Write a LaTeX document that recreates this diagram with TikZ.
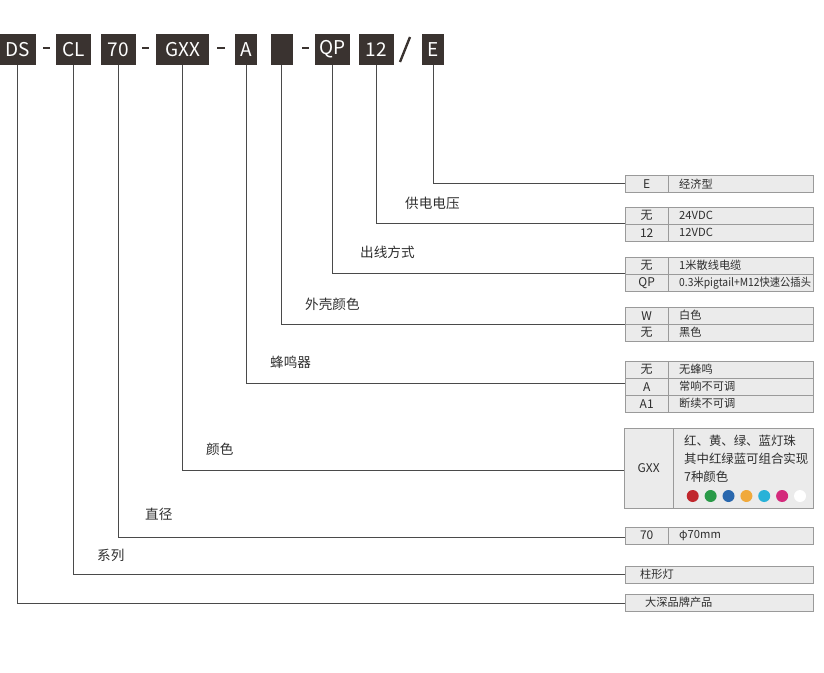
\documentclass[tikz,border=0pt]{standalone}
\usepackage{fontspec}
\setmainfont{Noto Sans CJK SC}
\definecolor{boxfill}{HTML}{3A3330}
\definecolor{linec}{HTML}{4A4A4A}
\definecolor{cellfill}{HTML}{EBEBEB}
\definecolor{cellborder}{HTML}{9A9A9A}
\definecolor{txt}{HTML}{2E2E2E}
\definecolor{dred}{HTML}{C0272D}
\definecolor{dgreen}{HTML}{2A9A48}
\definecolor{dblue}{HTML}{2A68AE}
\definecolor{dorange}{HTML}{F0A93B}
\definecolor{dcyan}{HTML}{29B2D8}
\definecolor{dmag}{HTML}{D42A7C}
\newcommand\trow[4]{%
  \node[keycell] (#4k) at (625,#1) {#2};
  \node[valcell] (#4v) at (668,#1) {#3};}
\begin{document}
\begin{tikzpicture}[x=1pt,y=-1pt,
  topbox/.style={fill=boxfill, text=white, minimum height=31, inner sep=0,
    font=\fontsize{19}{19}\selectfont},
  conn/.style={draw=linec, line width=0.9pt},
  dashmark/.style={draw=boxfill, line width=2pt},
  keycell/.style={draw=cellborder, fill=cellfill, minimum width=43, minimum height=17,
    inner sep=0, anchor=north west, text=txt, font=\fontsize{12}{12}\selectfont},
  valcell/.style={draw=cellborder, fill=cellfill, text width=123, inner xsep=11, inner ysep=0,
    minimum height=17, align=left, anchor=north west, text=txt, font=\fontsize{11.2}{12}\selectfont},
  widecell/.style={draw=cellborder, fill=cellfill, minimum width=188, minimum height=17,
    inner sep=0, anchor=north west},
  lbl/.style={anchor=west, text=txt, inner sep=0, font=\fontsize{13.6}{14}\selectfont},
  ctext/.style={anchor=west, text=txt, inner sep=0, font=\fontsize{11.2}{12}\selectfont},
  gtext/.style={anchor=west, text=txt, inner sep=0, font=\fontsize{12.4}{13}\selectfont},
  dot/.style={circle, minimum size=12, inner sep=0}]
\useasboundingbox (0,0) rectangle (824,672);

% top code boxes
\node[topbox, minimum width=36] (ds) at (18,49.5) {DS};
\node[topbox, minimum width=35] (cl) at (73.5,49.5) {CL};
\node[topbox, minimum width=35] (dia) at (118.5,49.5) {70};
\node[topbox, minimum width=53] (gxx) at (182.5,49.5) {GXX};
\node[topbox, minimum width=22] (buz) at (246,49.5) {A};
\node[topbox, minimum width=22] (shell) at (282,49.5) {};
\node[topbox, minimum width=35] (qp) at (332.5,49.5) {QP};
\node[topbox, minimum width=35] (volt) at (376.5,49.5) {12};
\node[topbox, minimum width=22] (eco) at (433,49.5) {E};

\coordinate (d1a) at (43,48); \coordinate (d1b) at (50,48);
\coordinate (d2a) at (142,48); \coordinate (d2b) at (149,48);
\coordinate (d3a) at (217,48); \coordinate (d3b) at (225,48);
\coordinate (d4a) at (302,48); \coordinate (d4b) at (309,48);
\draw[dashmark] (d1a) -- (d1b);
\draw[dashmark] (d2a) -- (d2b);
\draw[dashmark] (d3a) -- (d3b);
\draw[dashmark] (d4a) -- (d4b);
\coordinate (sl1) at (400,62); \coordinate (sl2) at (410,37);
\draw[draw=boxfill, line width=2.4pt] (sl1) -- (sl2);

% tables
\node[keycell] (tEk) at (625,175) {E};
\node[valcell] (tEv) at (668,175) {经济型};

\trow{207}{无}{24VDC}{tVa}
\trow{224}{12}{12VDC}{tVb}

\trow{257}{无}{1米散线电缆}{tQa}
\node[keycell] (tQbk) at (625,274) {QP};
\node[valcell] (tQbv) at (668,274) {\scalebox{0.92}[1]{0.3米pigtail+M12快速公插头}};

\trow{307}{W}{白色}{tWa}
\trow{324}{无}{黑色}{tWb}

\trow{361}{无}{无蜂鸣}{tAa}
\trow{378}{A}{常响不可调}{tAb}
\trow{395}{A1}{断续不可调}{tAc}

\node[keycell, minimum width=49, minimum height=80] (tGk) at (624,428) {GXX};
\node[draw=cellborder, fill=cellfill, minimum width=140, minimum height=80, inner sep=0, anchor=north west] (tGv) at (673,428) {};
\node[gtext] (g1) at (684,440.5) {红、黄、绿、蓝灯珠};
\node[gtext] (g2) at (684,459) {其中红绿蓝可组合实现};
\node[gtext] (g3) at (684,477) {7种颜色};
\node[dot, fill=dred] (c1) at (692.7,496) {};
\node[dot, fill=dgreen] (c2) at (710.6,496) {};
\node[dot, fill=dblue] (c3) at (728.5,496) {};
\node[dot, fill=dorange] (c4) at (746.4,496) {};
\node[dot, fill=dcyan] (c5) at (764.2,496) {};
\node[dot, fill=dmag] (c6) at (782.1,496) {};
\node[dot, fill=white] (c7) at (800,496) {};

\trow{527}{70}{φ70mm}{tD}

\node[widecell] (tC) at (625,566) {};
\node[ctext] (tCt) at (640,574) {柱形灯};
\node[widecell] (tS) at (625,594) {};
\node[ctext] (tSt) at (645,602) {大深品牌产品};

% connector endpoints
\coordinate (pE) at (625,183);
\coordinate (pV) at (625,223);
\coordinate (pQ) at (625,273);
\coordinate (pW) at (625,324);
\coordinate (pA) at (625,383);
\coordinate (pG) at (624,470);
\coordinate (pD) at (625,537);
\coordinate (pC) at (625,574);
\coordinate (pS) at (625,603);

\draw[conn] (eco.south) |- (pE);
\draw[conn] (volt.south) |- (pV);
\draw[conn] (qp.south) |- (pQ);
\draw[conn] (shell.south) -- ++(-1,0) |- (pW);
\draw[conn] (buz.south) |- (pA);
\draw[conn] (gxx.south) -- ++(-0.5,0) |- (pG);
\draw[conn] (dia.south) |- (pD);
\draw[conn] (cl.south) -- ++(-0.5,0) |- (pC);
\draw[conn] (ds.south) -- ++(-0.7,0) |- (pS);

% labels
\node[lbl] (l1) at (405,203) {供电电压};
\node[lbl] (l2) at (360,252) {出线方式};
\node[lbl] (l3) at (305,304) {外壳颜色};
\node[lbl] (l4) at (270,362) {蜂鸣器};
\node[lbl] (l5) at (206,449) {颜色};
\node[lbl] (l6) at (145,514) {直径};
\node[lbl] (l7) at (97,555) {系列};
\end{tikzpicture}
\end{document}
